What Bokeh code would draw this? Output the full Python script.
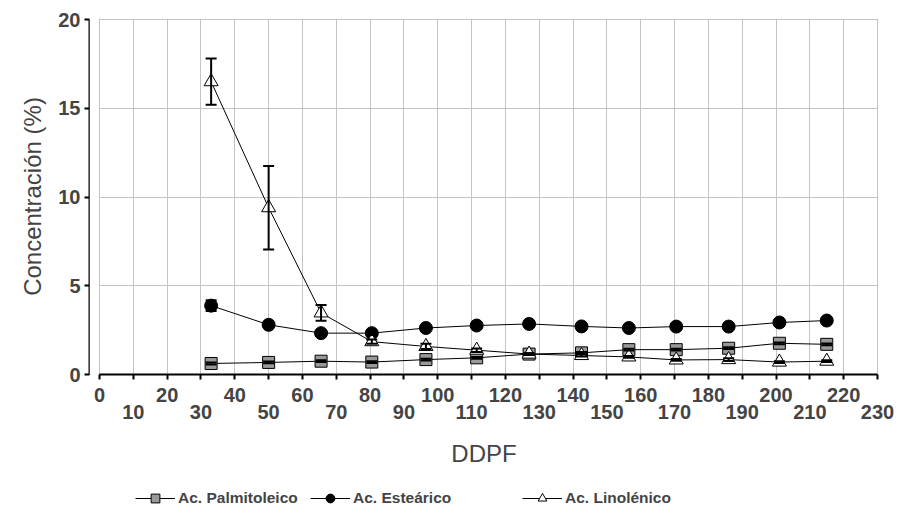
from bokeh.plotting import figure
from bokeh.layouts import column
from bokeh.models import (ColumnDataSource, LinearAxis, FixedTicker, Range1d, Whisker,
                          TeeHead, Legend, LegendItem, BoxAnnotation)
from bokeh.embed import file_html
from bokeh.resources import INLINE

# ---- data ----
ddpf = [33, 50, 65.5, 80.5, 96.5, 111.5, 127, 142.5, 156.5, 170.5, 186, 201, 215]
palmitoleico = [0.62, 0.68, 0.75, 0.70, 0.84, 0.94, 1.15, 1.22, 1.40, 1.40, 1.48, 1.76, 1.70]
palmitoleico_err = [0.05, 0.05, 0.05, 0.05, 0.05, 0.05, 0.05, 0.05, 0.05, 0.05, 0.05, 0.05, 0.05]
estearico = [3.88, 2.80, 2.33, 2.33, 2.62, 2.76, 2.85, 2.71, 2.62, 2.70, 2.70, 2.93, 3.04]
estearico_err = [0.30, 0.10, 0.08, 0.10, 0.05, 0.15, 0.10, 0.05, 0.05, 0.05, 0.05, 0.15, 0.05]
linolenico = [16.5, 9.4, 3.47, 1.85, 1.58, 1.37, 1.15, 1.07, 0.99, 0.82, 0.84, 0.70, 0.75]
linolenico_err = [1.3, 2.35, 0.44, 0.12, 0.15, 0.10, 0.05, 0.05, 0.05, 0.05, 0.08, 0.05, 0.05]

series_names = ["Ac. Palmitoleico", "Ac. Esteárico", "Ac. Linolénico"]
x_ticks_even = list(range(0, 221, 20))
x_ticks_odd = list(range(10, 231, 20))
y_ticks = [0, 5, 10, 15, 20]

FONT = "Liberation Sans"
TICK_FS = "20px"
TITLE_FS = "24px"

p = figure(width=895, height=469, output_backend="svg", toolbar_location=None,
           x_range=Range1d(-2.96, 230.3), y_range=Range1d(0, 20.06),
           x_axis_location=None, y_axis_location=None,
           min_border_left=89, min_border_right=17, min_border_top=18, min_border_bottom=94)
p.outline_line_color = None
p.background_fill_color = "white"

# grids
p.xgrid.ticker = FixedTicker(ticks=x_ticks_even + x_ticks_odd)
p.ygrid.ticker = FixedTicker(ticks=y_ticks)
for g in (p.xgrid, p.ygrid):
    g.grid_line_color = "#c4c4c4"
    g.grid_line_width = 1

# white strip between y axis and x=0
p.add_layout(BoxAnnotation(right=-0.2, fill_color="white", fill_alpha=1.0, line_color=None))

# y axis
yax = LinearAxis(ticker=FixedTicker(ticks=y_ticks), bounds=(0, 20))
yax.axis_label = "Concentración (%)"
yax.axis_label_text_font = FONT
yax.axis_label_text_font_size = TITLE_FS
yax.axis_label_text_font_style = "normal"
yax.axis_label_standoff = 9
yax.major_label_text_font = FONT
yax.major_label_text_font_size = TICK_FS
yax.major_label_text_font_style = "bold"
yax.major_label_standoff = 4
yax.axis_line_width = 2
yax.major_tick_line_width = 2
yax.major_tick_out = 5
yax.major_tick_in = 0
yax.minor_tick_out = 0
yax.minor_tick_in = 0
p.add_layout(yax, "left")

# x axis (row 1: even labels, all ticks)
all_ticks = sorted(x_ticks_even + x_ticks_odd)
xax = LinearAxis(ticker=FixedTicker(ticks=all_ticks), bounds=(0, 230))
xax.major_label_overrides = {t: "" for t in x_ticks_odd}
xax.major_label_text_font = FONT
xax.major_label_text_font_size = TICK_FS
xax.major_label_text_font_style = "bold"
xax.major_label_standoff = 8
xax.axis_line_width = 2
xax.major_tick_line_width = 2
xax.major_tick_out = 5
xax.major_tick_in = 0
xax.minor_tick_out = 0
xax.minor_tick_in = 0
p.add_layout(xax, "below")

# x axis (row 2: odd labels)
xax2 = LinearAxis(ticker=FixedTicker(ticks=x_ticks_odd))
xax2.axis_line_color = None
xax2.major_tick_line_color = None
xax2.minor_tick_line_color = None
xax2.major_tick_out = 0
xax2.major_tick_in = 0
xax2.minor_tick_out = 0
xax2.minor_tick_in = 0
xax2.major_label_text_font = FONT
xax2.major_label_text_font_size = TICK_FS
xax2.major_label_text_font_style = "bold"
xax2.major_label_standoff = 0
xax2.axis_label = "DDPF"
xax2.axis_label_text_font = FONT
xax2.axis_label_text_font_size = TITLE_FS
xax2.axis_label_text_font_style = "normal"
xax2.axis_label_standoff = 18
p.add_layout(xax2, "below")

# sources
src = ColumnDataSource(dict(
    x=ddpf,
    pal=palmitoleico, pal_lo=[v - e for v, e in zip(palmitoleico, palmitoleico_err)],
    pal_hi=[v + e for v, e in zip(palmitoleico, palmitoleico_err)],
    est=estearico, est_lo=[v - e for v, e in zip(estearico, estearico_err)],
    est_hi=[v + e for v, e in zip(estearico, estearico_err)],
    lin=linolenico, lin_lo=[v - e for v, e in zip(linolenico, linolenico_err)],
    lin_hi=[v + e for v, e in zip(linolenico, linolenico_err)],
))

# error bars
for key in ("pal", "est", "lin"):
    w = Whisker(source=src, base="x", lower=key + "_lo", upper=key + "_hi",
                line_color="black", line_width=2, level="glyph",
                lower_head=TeeHead(size=11, line_color="black", line_width=2),
                upper_head=TeeHead(size=11, line_color="black", line_width=2))
    p.add_layout(w)

keys = ("pal", "est", "lin")
styles = [
    dict(marker="square", fill_color="#999999"),
    dict(marker="circle", fill_color="black"),
    dict(marker="triangle", fill_color="white"),
]
plot_sizes = [12, 13, 14]
legend_sizes = [9, 10, 11]
for key, st, sz in zip(keys, styles, plot_sizes):
    p.line("x", key, source=src, line_color="black", line_width=1)
    p.scatter("x", key, source=src, size=sz, line_color="black", line_width=1, **st)

# ---- legend strip (separate figure, renderers there fall outside its view) ----
lf = figure(width=895, height=47, output_backend="svg", toolbar_location=None,
            x_range=Range1d(0, 1), y_range=Range1d(0, 1),
            x_axis_location=None, y_axis_location=None,
            min_border_left=89, min_border_right=17, min_border_top=0, min_border_bottom=0)
lf.outline_line_color = None
lf.xgrid.visible = False
lf.ygrid.visible = False
legend_x = [46, 221, 433]
for name, key, st, sz, lx in zip(series_names, keys, styles, legend_sizes, legend_x):
    lr = lf.line("x", key, source=src, line_color="black", line_width=1)
    sr = lf.scatter("x", key, source=src, size=sz, line_color="black", line_width=1, **st)
    lg = Legend(items=[LegendItem(label=name, renderers=[lr, sr])],
                orientation="horizontal", location=(lx, 7))
    lg.label_text_font = FONT
    lg.label_text_font_size = "15.5px"
    lg.label_text_font_style = "bold"
    lg.glyph_width = 40
    lg.glyph_height = 22
    lg.label_standoff = 3
    lg.padding = 3
    lg.margin = 0
    lg.border_line_color = None
    lg.background_fill_alpha = 0
    lf.add_layout(lg, "center")

layout = column(p, lf, spacing=0)
open("out.html", "w").write(file_html(layout, INLINE))
